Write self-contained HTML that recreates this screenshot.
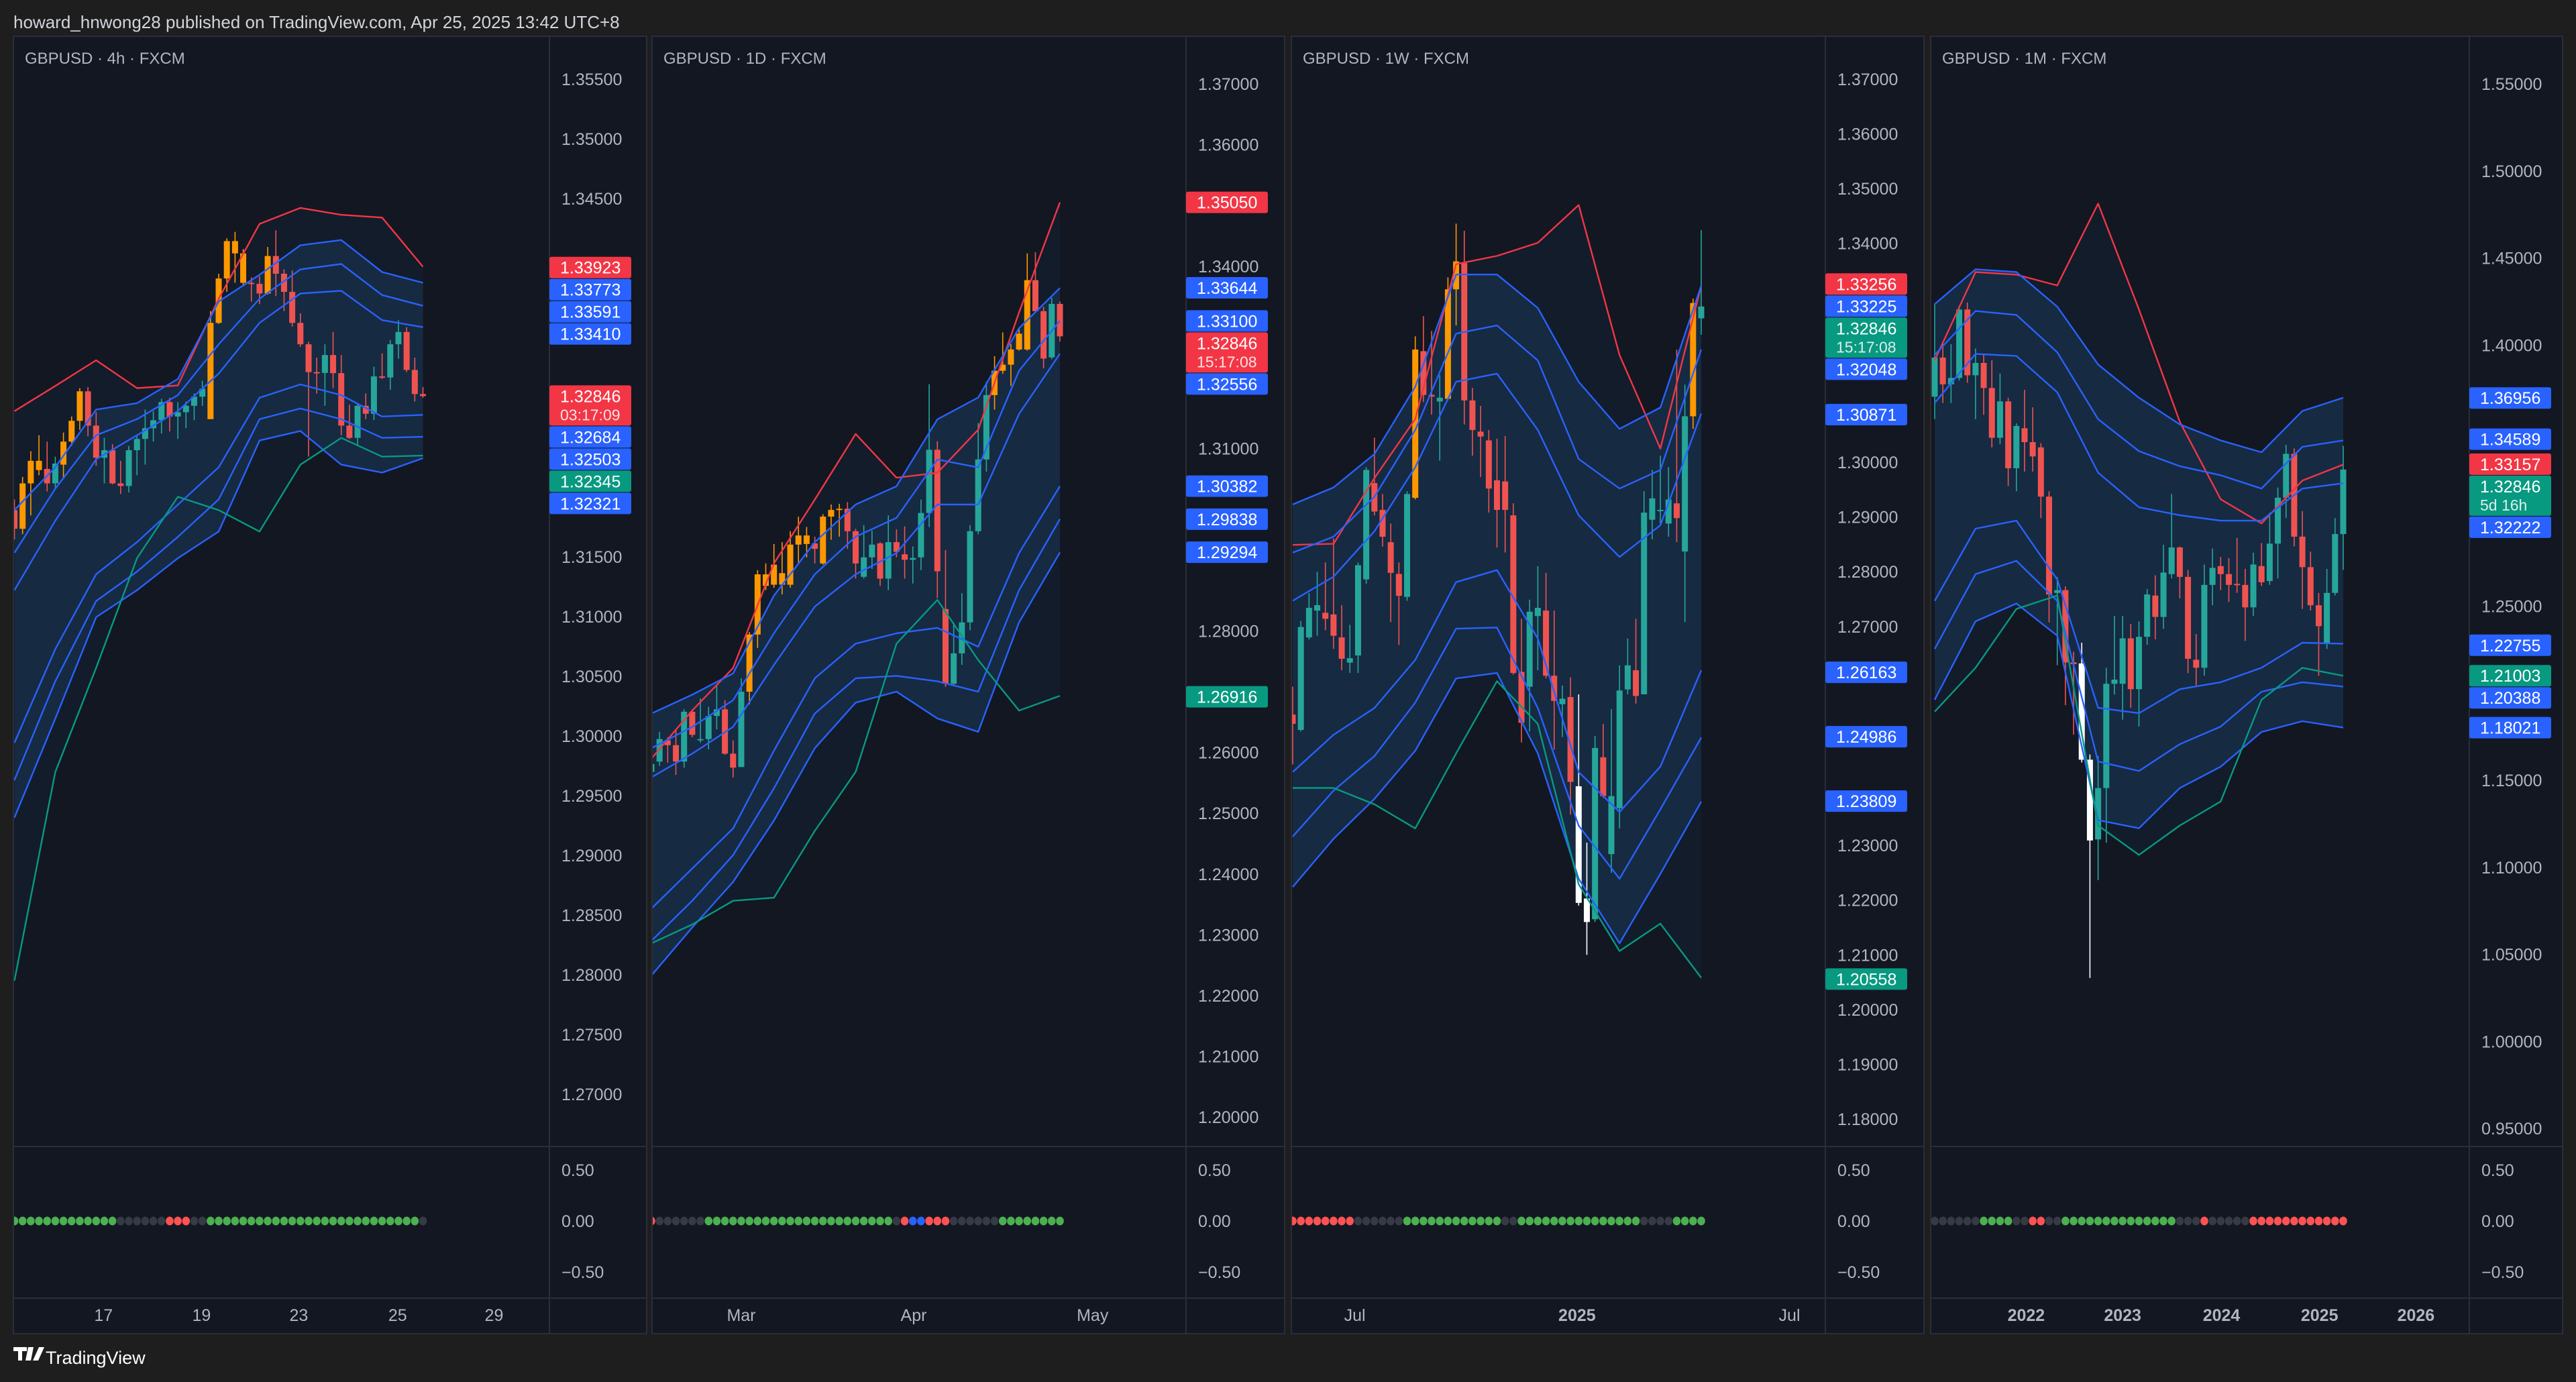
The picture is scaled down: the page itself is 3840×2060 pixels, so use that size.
<!DOCTYPE html>
<html><head><meta charset="utf-8"><title>GBPUSD multi-timeframe</title>
<style>
html,body{margin:0;padding:0;background:#1e1e1e;}
body{width:3840px;height:2060px;overflow:hidden;font-family:"Liberation Sans",sans-serif;}
svg{display:block;}
text{font-family:"Liberation Sans",sans-serif;}
</style></head>
<body>
<svg id="chart" width="3840" height="2060" viewBox="0 0 3840 2060" xmlns="http://www.w3.org/2000/svg">
<rect x="0" y="0" width="3840" height="2060" fill="#1e1e1e"/>
<text x="20" y="42" font-size="26" fill="#d1d4dc">howard_hnwong28 published on TradingView.com, Apr 25, 2025 13:42 UTC+8</text>
<g>
<path d="M20 2008 h20 v6 h-7 v14 h-6 v-14 h-7 z M42 2008 h8 l-4 20 h-8 z M49 2028 l9 -20 h8 l-9 20 z" fill="#ffffff"/>
<text x="68" y="2033" font-size="27" fill="#ffffff">TradingView</text>
</g>
<defs id="defs"></defs>
<g id="panels"></g>
</svg>
<script>
// ---------- Panel 1 : 4h ----------
const open1=[1.31891,1.31735,1.32115,1.32227,1.32236,1.32115,1.32272,1.32465,1.32639,1.32886,1.32599,1.32330,1.32393,1.32115,1.32093,1.32393,1.32487,1.32577,1.32644,1.32796,1.32675,1.32711,1.32765,1.32841,1.32653,1.33459,1.33831,1.34144,1.34041,1.33795,1.33786,1.33705,1.34019,1.33871,1.33719,1.33459,1.33280,1.33047,1.33040,1.33190,1.33038,1.32599,1.32496,1.32765,1.32698,1.33011,1.33002,1.33280,1.33383,1.33065,1.32863];
const high1=[1.31981,1.32169,1.32384,1.32518,1.32465,1.32339,1.32541,1.32675,1.32913,1.32922,1.32711,1.32496,1.32442,1.32304,1.32429,1.32510,1.32733,1.32720,1.32823,1.32832,1.32796,1.32800,1.32868,1.32975,1.33558,1.33871,1.34167,1.34221,1.34077,1.33840,1.33849,1.34095,1.34234,1.33907,1.33898,1.33540,1.33302,1.33168,1.33280,1.33383,1.33190,1.32774,1.32787,1.32868,1.33092,1.33204,1.33316,1.33481,1.33423,1.33168,1.32922];
const low1=[1.31645,1.31690,1.31847,1.32183,1.32048,1.32062,1.32151,1.32429,1.32563,1.32510,1.32263,1.32115,1.32106,1.32026,1.32039,1.32183,1.32272,1.32465,1.32532,1.32550,1.32487,1.32577,1.32644,1.32765,1.32653,1.33450,1.33719,1.33795,1.33764,1.33638,1.33616,1.33697,1.33683,1.33558,1.33428,1.33258,1.32339,1.32868,1.32765,1.32913,1.32518,1.32487,1.32429,1.32653,1.32644,1.32989,1.32899,1.33159,1.33047,1.32801,1.32832];
const close1=[1.31735,1.32115,1.32304,1.32304,1.32115,1.32281,1.32465,1.32639,1.32886,1.32599,1.32330,1.32393,1.32115,1.32093,1.32393,1.32487,1.32577,1.32644,1.32796,1.32675,1.32711,1.32765,1.32841,1.32908,1.33459,1.33831,1.34144,1.34041,1.33795,1.33790,1.33705,1.34019,1.33871,1.33719,1.33459,1.33280,1.33047,1.33040,1.33190,1.33038,1.32599,1.32496,1.32765,1.32698,1.33011,1.33002,1.33280,1.33383,1.33065,1.32863,1.32846];
const orange1=[1,2,3,6,7,8,24,25,26,27,28,31];
const white1=[];
const red1=[1.32720,1.32931,1.33146,1.32913,1.32935,1.33661,1.34288,1.34422,1.34364,1.34341,1.33929];
const b1_1=[1.31891,1.32250,1.32733,1.32787,1.32989,1.33638,1.33862,1.34109,1.34153,1.33885,1.33795];
const b2_1=[1.31533,1.32071,1.32518,1.32653,1.32854,1.33280,1.33661,1.33907,1.33952,1.33692,1.33602];
const b3_1=[1.31220,1.31802,1.32317,1.32518,1.32720,1.33034,1.33459,1.33705,1.33728,1.33482,1.33423];
const b4_1=[1.29943,1.30727,1.31354,1.31623,1.31936,1.32250,1.32832,1.32944,1.32854,1.32675,1.32689];
const b5_1=[1.29630,1.30458,1.31130,1.31376,1.31667,1.31981,1.32653,1.32742,1.32653,1.32496,1.32505];
const b6_1=[1.29316,1.30145,1.30995,1.31220,1.31488,1.31712,1.32474,1.32554,1.32272,1.32205,1.32326];
const green1=[1.27950,1.29697,1.30570,1.31488,1.32003,1.31891,1.31712,1.32272,1.32496,1.32339,1.32348];
const ticks1=[1.355,1.35,1.345,1.34,1.335,1.33,1.325,1.32,1.315,1.31,1.305,1.30,1.295,1.29,1.285,1.28,1.275,1.27];
const labelPrices1=[1.33923,1.33773,1.33591,1.33410,1.32846,1.32684,1.32503,1.32345,1.32321];
const labelKinds1=['r','b','b','b','r','b','b','g','b'];
const countdown1='03:17:09';
const dots1='gggggggggggggnnnnnnrrrnnggggggggggggggggggggggggggnn'.slice(0,51).split('');
const timeLabels1=['17','19','23','25','29'];
const timeIdx1=[10.9,22.9,34.8,46.9,58.7];

// ---------- Panel 2 : 1D ----------
const open2=[1.2568,1.2585,1.2620,1.2612,1.2585,1.2667,1.2620,1.2622,1.2660,1.2671,1.2598,1.2576,1.2700,1.2794,1.2874,1.2876,1.2895,1.2876,1.2942,1.2957,1.2944,1.2911,1.2988,1.3000,1.3001,1.2964,1.2889,1.2921,1.2944,1.2886,1.2946,1.2926,1.2917,1.2921,1.2994,1.3098,1.2836,1.2713,1.2763,1.2814,1.2964,1.3082,1.3188,1.3228,1.3238,1.3263,1.3263,1.3377,1.3326,1.3250,1.3338];
const high2=[1.2585,1.2634,1.2625,1.2638,1.2671,1.2671,1.2689,1.2675,1.2713,1.2686,1.2620,1.2722,1.2798,1.2900,1.2911,1.2943,1.2946,1.2964,1.2988,1.2971,1.2955,1.2992,1.3008,1.3009,1.3012,1.2968,1.2974,1.2965,1.2946,1.2990,1.2967,1.2972,1.2939,1.3016,1.3206,1.3112,1.2933,1.2814,1.2862,1.2974,1.3142,1.3210,1.3252,1.3291,1.3272,1.3298,1.3421,1.3423,1.3333,1.3348,1.3342];
const low2=[1.2563,1.2578,1.2583,1.2563,1.2575,1.2625,1.2616,1.2605,1.2638,1.2596,1.2559,1.2576,1.2679,1.2772,1.2867,1.2871,1.2860,1.2871,1.2911,1.2921,1.2911,1.2909,1.2950,1.2955,1.2935,1.2886,1.2886,1.2902,1.2874,1.2867,1.2921,1.2886,1.2878,1.2900,1.2971,1.2854,1.2708,1.2710,1.2744,1.2801,1.2959,1.3062,1.3164,1.3223,1.3203,1.3261,1.3261,1.3324,1.3232,1.3247,1.3276];
const close2=[1.2581,1.2622,1.2612,1.2585,1.2667,1.2629,1.2622,1.2660,1.2671,1.2598,1.2575,1.2700,1.2794,1.2893,1.2893,1.2909,1.2876,1.2942,1.2957,1.2943,1.2935,1.2988,1.2999,1.3001,1.2964,1.2911,1.2921,1.2942,1.2886,1.2946,1.2930,1.2917,1.2920,1.2994,1.3098,1.2898,1.2713,1.2763,1.2814,1.2964,1.3082,1.3188,1.3228,1.3238,1.3263,1.3289,1.3377,1.3326,1.3248,1.3338,1.32846];
const orange2=[12,13,14,15,16,17,18,19,21,22,23,42,43,44,45,46];
const white2=[];
const red2=[1.2590,1.2669,1.2739,1.2911,1.3016,1.3124,1.3052,1.3060,1.3131,1.3324,1.3505];
const b1_2=[1.2664,1.2695,1.2730,1.2858,1.2946,1.3008,1.3038,1.3148,1.3184,1.3298,1.3364];
const b2_2=[1.2607,1.2642,1.2686,1.2796,1.2893,1.2955,1.2986,1.3082,1.3069,1.3228,1.3310];
const b3_2=[1.2559,1.2598,1.2642,1.2744,1.2840,1.2893,1.2928,1.3008,1.3008,1.3157,1.3256];
const b4_2=[1.2343,1.2409,1.2475,1.2603,1.2722,1.2779,1.2796,1.2805,1.2774,1.2928,1.3038];
const b5_2=[1.2290,1.2356,1.2431,1.2541,1.2664,1.2722,1.2726,1.2717,1.2700,1.2867,1.2984];
const b6_2=[1.2233,1.2312,1.2387,1.2488,1.2607,1.2682,1.2700,1.2656,1.2634,1.2814,1.2929];
const green2=[1.2286,1.2317,1.2356,1.2361,1.2471,1.2568,1.2779,1.2851,1.2752,1.2669,1.2693];
const ticks2=[1.37,1.36,1.35,1.34,1.33,1.32,1.31,1.30,1.29,1.28,1.27,1.26,1.25,1.24,1.23,1.22,1.21,1.20];
const labelPrices2=[1.35050,1.33644,1.33100,1.32846,1.32556,1.30382,1.29838,1.29294,1.26916];
const labelKinds2=['r','b','b','r','b','b','b','b','g'];
const countdown2='15:17:08';
const dots2=('r'+'nnnnnn'+'ggggggggggggggggggggggg'+'n'+'r'+'uu'+'rrr'+'nnnnnn'+'gggggggg').split('');
const timeLabels2=['Mar','Apr','May'];
const timeIdx2=[11.0,32.1,54.0];

// ---------- Panel 3 : 1W ----------
const open3=[1.2539,1.2511,1.2680,1.2729,1.2725,1.2722,1.2680,1.2634,1.2647,1.2786,1.2962,1.2913,1.2854,1.2796,1.2754,1.2935,1.3203,1.3123,1.3111,1.3116,1.3316,1.3364,1.3113,1.3056,1.3040,1.2967,1.2965,1.2903,1.2617,1.2590,1.2719,1.2729,1.2610,1.2558,1.2571,1.2408,1.2203,1.2165,1.2461,1.2284,1.2368,1.2585,1.2620,1.2576,1.2895,1.2911,1.2888,1.2925,1.2837,1.3084,1.3263];
const high3=[1.2590,1.2710,1.2761,1.2800,1.2817,1.2861,1.2739,1.2703,1.2817,1.2991,1.3045,1.2942,1.2888,1.2817,1.2947,1.3230,1.3267,1.3240,1.3159,1.3338,1.3436,1.3423,1.3136,1.3103,1.3059,1.3043,1.3048,1.2925,1.2714,1.2749,1.2810,1.2798,1.2729,1.2592,1.2607,1.2576,1.2305,1.2500,1.2522,1.2549,1.2629,1.2678,1.2714,1.2947,1.2986,1.3012,1.2991,1.3206,1.3142,1.3299,1.3424];
const low3=[1.2448,1.2508,1.2676,1.2683,1.2693,1.2659,1.2620,1.2615,1.2615,1.2778,1.2903,1.2846,1.2708,1.2666,1.2747,1.2932,1.3110,1.3087,1.3003,1.3113,1.3250,1.3069,1.3012,1.2973,1.2908,1.2844,1.2835,1.2612,1.2488,1.2508,1.2620,1.2605,1.2475,1.2498,1.2356,1.2190,1.2100,1.2160,1.2387,1.2250,1.2331,1.2576,1.2559,1.2576,1.2859,1.2888,1.2864,1.2854,1.2708,1.3061,1.3233];
const close3=[1.2522,1.2699,1.2734,1.2739,1.2714,1.2683,1.2641,1.2642,1.2812,1.2986,1.2910,1.2864,1.2798,1.2756,1.2942,1.3206,1.3123,1.3120,1.3118,1.3316,1.3367,1.3113,1.3059,1.3047,1.2952,1.2913,1.2913,1.2615,1.2524,1.2727,1.2734,1.2610,1.2564,1.2568,1.2416,1.2195,1.2160,1.2478,1.2390,1.2390,1.2583,1.2629,1.2573,1.2908,1.2934,1.2913,1.2932,1.2898,1.3084,1.3291,1.32846];
const orange3=[15,19,20,49];
const white3=[35,36];
const red3=[1.2849,1.2851,1.2971,1.3079,1.3362,1.3377,1.3401,1.3470,1.3196,1.3025,1.3323];
const b1_3=[1.2923,1.2954,1.3015,1.3138,1.3343,1.3343,1.3282,1.3147,1.3061,1.3100,1.3323];
const b2_3=[1.2835,1.2864,1.2937,1.3059,1.3235,1.3250,1.3186,1.3006,1.2952,1.2986,1.3206];
const b3_3=[1.2747,1.2791,1.2874,1.2991,1.3147,1.3162,1.3059,1.2903,1.2827,1.2885,1.3089];
const b4_3=[1.2434,1.2502,1.2551,1.2639,1.2781,1.2803,1.2678,1.2434,1.2361,1.2444,1.2620];
const b5_3=[1.2316,1.2400,1.2463,1.2561,1.2696,1.2698,1.2551,1.2336,1.2239,1.2366,1.2497];
const b6_3=[1.2224,1.2312,1.2385,1.2473,1.2605,1.2615,1.2468,1.2239,1.2121,1.2248,1.2380];
const green3=[1.2405,1.2405,1.2375,1.2331,1.2468,1.2600,1.2522,1.2229,1.2107,1.2157,1.2058];
const ticks3=[1.37,1.36,1.35,1.34,1.33,1.32,1.31,1.30,1.29,1.28,1.27,1.26,1.25,1.24,1.23,1.22,1.21,1.20,1.19,1.18];
const labelPrices3=[1.33256,1.33225,1.32846,1.32048,1.30871,1.26163,1.24986,1.23809,1.20558];
const labelKinds3=['r','b','t','b','b','b','b','b','g'];
const countdown3='15:17:08';
const dots3=('rrrrrrrr'+'nnnnnn'+'gggggggggggg'+'nn'+'ggggggggggggggg'+'nnnn'+'gggg').split('');
const timeLabels3=['Jul','2025','Jul'];
const timeIdx3=[7.6,34.8,60.8];

// ---------- Panel 4 : 1M ----------
const open4=[1.3703,1.3928,1.3774,1.3811,1.4204,1.3826,1.3897,1.3753,1.3467,1.3676,1.3292,1.3522,1.3442,1.3412,1.3129,1.2576,1.2592,1.2177,1.2171,1.1618,1.1160,1.1455,1.2054,1.2054,1.2315,1.2023,1.2324,1.2561,1.2438,1.2684,1.2837,1.2668,1.2192,1.2146,1.2622,1.2730,1.2684,1.2628,1.2622,1.2493,1.2730,1.2644,1.2859,1.3123,1.3375,1.2899,1.2724,1.2505,1.2284,1.2576,1.2914];
const high4=[1.4235,1.4011,1.4005,1.4226,1.4244,1.3980,1.3949,1.3912,1.3836,1.3697,1.3550,1.3743,1.3642,1.3436,1.3160,1.2668,1.2613,1.2238,1.2290,1.1648,1.1639,1.2146,1.2444,1.2444,1.2398,1.2413,1.2598,1.2677,1.2853,1.3144,1.2843,1.2708,1.2340,1.2739,1.2831,1.2782,1.2776,1.2892,1.2714,1.2807,1.2862,1.3037,1.3181,1.3427,1.3406,1.3046,1.2813,1.2576,1.2714,1.3006,1.3421];
const low4=[1.3574,1.3667,1.3667,1.3796,1.3783,1.3574,1.3599,1.3412,1.3430,1.3190,1.3160,1.3273,1.3273,1.3006,1.2407,1.2161,1.1931,1.1762,1.1602,1.0364,1.0926,1.1141,1.1992,1.1848,1.1916,1.1808,1.2278,1.2309,1.2370,1.2659,1.2545,1.2115,1.2045,1.2100,1.2505,1.2592,1.2524,1.2576,1.2300,1.2444,1.2616,1.2622,1.2659,1.3006,1.2843,1.2484,1.2475,1.2100,1.2254,1.2561,1.2708];
const close4=[1.3928,1.3774,1.3811,1.4204,1.3826,1.3897,1.3753,1.3467,1.3676,1.3292,1.3535,1.3442,1.3360,1.3129,1.2567,1.2592,1.2177,1.2167,1.1618,1.1154,1.1455,1.2054,1.2078,1.2315,1.2023,1.2324,1.2567,1.2438,1.2693,1.2837,1.2668,1.2198,1.2146,1.2622,1.2720,1.2684,1.2622,1.2622,1.2493,1.2739,1.2637,1.2859,1.3123,1.3375,1.2899,1.2724,1.2505,1.2385,1.2576,1.2914,1.32846];
const orange4=[];
const white4=[18,19];
const red4=[1.3912,1.4419,1.4404,1.4342,1.4812,1.4204,1.3559,1.3114,1.2975,1.3221,1.3313];
const b1_4=[1.4235,1.4435,1.4419,1.4220,1.3888,1.3697,1.3544,1.3452,1.3384,1.3621,1.3697];
const b2_4=[1.3943,1.4195,1.4173,1.3958,1.3574,1.3390,1.3304,1.3252,1.3175,1.3415,1.3452];
const b3_4=[1.3667,1.3949,1.3937,1.3728,1.3267,1.3068,1.3022,1.2991,1.2991,1.3175,1.3206];
const b4_4=[1.2530,1.2945,1.2991,1.2653,1.1916,1.1885,1.2023,1.2063,1.2146,1.2290,1.2284];
const b5_4=[1.2254,1.2684,1.2760,1.2530,1.1608,1.1553,1.1707,1.1808,1.2008,1.2063,1.2038];
const b6_4=[1.1962,1.2413,1.2515,1.2330,1.1271,1.1224,1.1455,1.1578,1.1777,1.1839,1.1802];
const green4=[1.1894,1.2146,1.2484,1.2561,1.1240,1.1071,1.1240,1.1378,1.1962,1.2146,1.2100];
const ticks4=[1.55,1.50,1.45,1.40,1.35,1.30,1.25,1.20,1.15,1.10,1.05,1.00,0.95];
const labelPrices4=[1.36956,1.34589,1.33157,1.32846,1.32222,1.22755,1.21003,1.20388,1.18021];
const labelKinds4=['b','b','r','t','b','b','g','b','b'];
const countdown4='5d 16h';
const dots4=('nnnnnn'+'gggg'+'nn'+'rr'+'nn'+'gggggggggggggg'+'nnn'+'r'+'nnnnn'+'rrrrrrrrrrrr').split('');
const timeLabels4=['2022','2023','2024','2025','2026'];
const timeIdx4=[11.2,23.0,35.1,47.1,58.9];
const indicatorTicks=[0.5,0,-0.5];

const NS='http://www.w3.org/2000/svg';
function mk(tag,parent){const e=document.createElementNS(NS,tag);parent.appendChild(e);return e;}
function set(e,o){for(const k in o)e.setAttribute(k,o[k]);return e;}

const PANELS=[
 {left:20,axis:819,right:964,pRef:1.355,y0:118,k:17800,cx0:21.5,title:'GBPUSD · 4h · FXCM',o:open1,h:high1,l:low1,c:close1,orange:orange1,white:white1,lines:[red1,b1_1,b2_1,b3_1,b4_1,b5_1,b6_1,green1],ticks:ticks1,lp:labelPrices1,lk:labelKinds1,cd:countdown1,dots:dots1,tl:timeLabels1,ti:timeIdx1,bold:[]},
 {left:972,axis:1768,right:1915,pRef:1.37,y0:125,k:9060,cx0:971,title:'GBPUSD · 1D · FXCM',o:open2,h:high2,l:low2,c:close2,orange:orange2,white:white2,lines:[red2,b1_2,b2_2,b3_2,b4_2,b5_2,b6_2,green2],ticks:ticks2,lp:labelPrices2,lk:labelKinds2,cd:countdown2,dots:dots2,tl:timeLabels2,ti:timeIdx2,bold:[]},
 {left:1925,axis:2721,right:2868,pRef:1.37,y0:118,k:8158,cx0:1927,title:'GBPUSD · 1W · FXCM',o:open3,h:high3,l:low3,c:close3,orange:orange3,white:white3,lines:[red3,b1_3,b2_3,b3_3,b4_3,b5_3,b6_3,green3],ticks:ticks3,lp:labelPrices3,lk:labelKinds3,cd:countdown3,dots:dots3,tl:timeLabels3,ti:timeIdx3,bold:['2025']},
 {left:2878,axis:3681,right:3820,pRef:1.55,y0:125,k:2595,cx0:2884,title:'GBPUSD · 1M · FXCM',o:open4,h:high4,l:low4,c:close4,orange:orange4,white:white4,lines:[red4,b1_4,b2_4,b3_4,b4_4,b5_4,b6_4,green4],ticks:ticks4,lp:labelPrices4,lk:labelKinds4,cd:countdown4,dots:dots4,tl:timeLabels4,ti:timeIdx4,bold:['2022','2023','2024','2025','2026']}
];
const TOP=54, PANE_BOT=1709, IND_BOT=1935, BOT=1988, STEP=12.18, LSTEP=5;
const COL={teal:'#26a69a',red:'#ef5350',orange:'#ff9800',white:'#ffffff'};
const LINECOL=['#f23645','#2962ff','#2962ff','#2962ff','#2962ff','#2962ff','#2962ff','#089981'];
const LABCOL={r:'#f23645',b:'#2962ff',g:'#089981',t:'#089981'};
const DOTCOL={g:'#4caf50',r:'#ff5252',n:'#363a45',u:'#2962ff'};
const LINENAMES=['upper-band-red','band-line-1','band-line-2','band-line-3','band-line-4','band-line-5','band-line-6','lower-band-green'];

const root=document.getElementById('panels');
const defs=document.getElementById('defs');

PANELS.forEach((P,pi)=>{
  const yOf=p=>P.y0+(P.pRef-p)*P.k;
  const xOf=i=>P.cx0+i*STEP;
  const g=mk('g',root);
  
  
  const bg=mk('rect',g);
  set(bg,{x:P.left,y:TOP,width:P.right-P.left,height:BOT-TOP,fill:'#131722',stroke:'#2a2e39','stroke-width':2});
  
  
  // separators
  [[P.axis,TOP,P.axis,BOT],[P.left,PANE_BOT,P.right,PANE_BOT],[P.left,IND_BOT,P.right,IND_BOT]].forEach(s=>{
    const ln=mk('line',g);
    set(ln,{x1:s[0],y1:s[1],x2:s[2],y2:s[3],stroke:'#2a2e39','stroke-width':2});
    
    
  });
  // clip
  const cp=mk('clipPath',defs); cp.setAttribute('id','clip'+pi);
  set(mk('rect',cp),{x:P.left+1,y:TOP+1,width:P.axis-P.left-1,height:PANE_BOT-TOP-1});
  const plot=mk('g',g); plot.setAttribute('clip-path','url(#clip'+pi+')');
  
  
  const pts=arr=>arr.map((v,j)=>[xOf(j*LSTEP),yOf(v)]);
  const L=P.lines.map(pts);
  const poly=(a,b)=>a.concat(b.slice().reverse()).map(q=>q[0].toFixed(1)+','+q[1].toFixed(1)).join(' ');
  const outer=mk('polygon',plot);
  set(outer,{points:poly(L[0],L[7]),fill:'#121c2b'});
  
  
  const inner=mk('polygon',plot);
  set(inner,{points:poly(L[1],L[6]),fill:'#162a42'});
  
  
  // candles
  const n=P.c.length;
  for(let i=0;i<n;i++){
    const o=P.o[i],c=P.c[i];
    let col=c>=o?COL.teal:COL.red;
    if(P.orange.includes(i))col=COL.orange;
    if(P.white.includes(i))col=COL.white;
    const x=xOf(i);
    const cg=mk('g',plot);
    
    
    const w=mk('line',cg);
    set(w,{x1:x,x2:x,y1:yOf(P.h[i]),y2:yOf(P.l[i]),stroke:col,'stroke-width':1.6});
    
    
    const top=yOf(Math.max(o,c)),bot=yOf(Math.min(o,c));
    const b=mk('rect',cg);
    set(b,{x:x-4.5,y:top,width:9,height:Math.max(2,bot-top),fill:col});
    
    
  }
  // lines
  L.forEach((arr,li)=>{
    const pl=mk('polyline',plot);
    set(pl,{points:arr.map(q=>q[0].toFixed(1)+','+q[1].toFixed(1)).join(' '),fill:'none',stroke:LINECOL[li],'stroke-width':2.4,'stroke-linejoin':'round'});
    
    
  });
  // title
  const t=mk('text',g);
  set(t,{x:P.left+17,y:95,'font-size':24,fill:'#b2b5be'});
  t.textContent=P.title;
  
  
  // labels layout
  const items=P.lp.map((p,j)=>({p,k:P.lk[j],cd:(j===P.lp.indexOf(1.32846))}));
  items.sort((a,b)=>b.p-a.p);
  let prevBot=-1e9;
  items.forEach(it=>{
    const h=it.cd?60:32;
    let top=yOf(it.p)-16;
    if(top<prevBot+1)top=prevBot+1;
    it.top=top;it.h=h;prevBot=top+h;
  });
  // ticks
  P.ticks.forEach(tv=>{
    const y=yOf(tv);
    if(y<TOP+20||y>PANE_BOT-15)return;
    if(items.some(it=>y>it.top-14&&y<it.top+it.h+14))return;
    const tx=mk('text',g);
    set(tx,{x:P.axis+18,y:y+9,'font-size':25,fill:'#b2b5be'});
    tx.textContent=tv.toFixed(5);
    
    
  });
  items.forEach(it=>{
    const lg=mk('g',g);
    
    
    const r=mk('rect',lg);
    set(r,{x:P.axis,y:it.top,width:122,height:it.h,rx:3,fill:LABCOL[it.k]});
    
    
    const tx=mk('text',lg);
    set(tx,{x:P.axis+16,y:it.top+25,'font-size':25,fill:'#ffffff'});
    tx.textContent=it.p.toFixed(5);
    
    
    if(it.cd){
      const t2=mk('text',lg);
      set(t2,{x:P.axis+16,y:it.top+52,'font-size':23,fill:'#ffffff','fill-opacity':0.85});
      t2.textContent=P.cd;
      
      
    }
  });
  // indicator pane
  const iy=v=>1820-v*152;
  indicatorTicks.forEach(v=>{
    const tx=mk('text',g);
    set(tx,{x:P.axis+18,y:iy(v)+9,'font-size':25,fill:'#b2b5be'});
    tx.textContent=(v<0?'\u2212':'')+Math.abs(v).toFixed(2);
    
    
  });
  const ig=mk('g',g);
  const icp=mk('clipPath',defs); icp.setAttribute('id','iclip'+pi);
  set(mk('rect',icp),{x:P.left+1,y:PANE_BOT,width:P.axis-P.left-1,height:IND_BOT-PANE_BOT});
  ig.setAttribute('clip-path','url(#iclip'+pi+')');
  
  
  P.dots.forEach((d,i)=>{
    const cc=mk('ellipse',ig);
    set(cc,{cx:xOf(i),cy:iy(0),rx:5.8,ry:6.5,fill:DOTCOL[d]});
    
    
  });
  // time axis
  P.tl.forEach((s,j)=>{
    const tx=mk('text',g);
    set(tx,{x:xOf(P.ti[j]),y:1969,'font-size':25,fill:'#b2b5be','text-anchor':'middle','font-weight':P.bold.includes(s)?'bold':'normal'});
    tx.textContent=s;
    
    
  });
});
</script>
</body></html>
